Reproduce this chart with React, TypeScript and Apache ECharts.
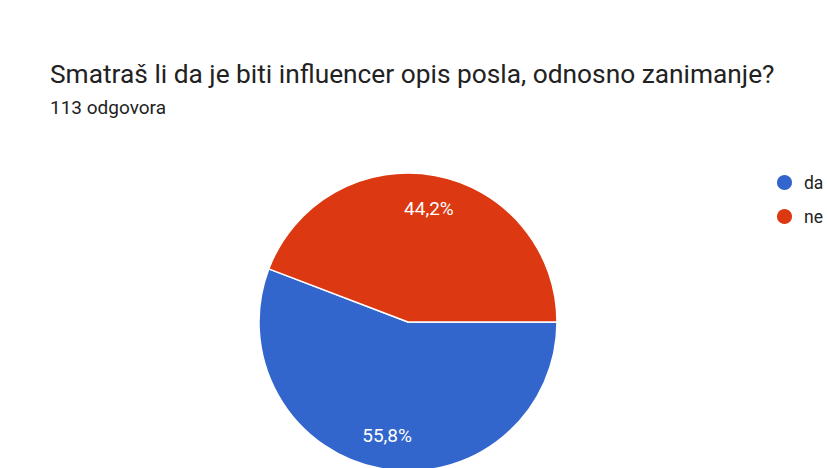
import React, { useEffect, useRef } from "react";
import * as echarts from "echarts";

const titleText = "Smatraš li da je biti influencer opis posla, odnosno zanimanje?";
const subtitleText = "113 odgovora";
const categories = ["da", "ne"];
const values = [55.8, 44.2];
const colors = ["#3366cc", "#dc3912"];

export default function App() {
  const ref = useRef<HTMLDivElement>(null);
  useEffect(() => {
    if (!ref.current) return;
    const chart = echarts.init(ref.current, null, { renderer: "svg" });
    const data = categories.map((name, i) => ({
      name,
      value: values[i],
      itemStyle: { color: colors[i] },
    }));
    const fmt = (p: any) => String(p.value.toFixed(1)).replace(".", ",") + "%";
    chart.setOption({
      animation: false,
      backgroundColor: "#ffffff",
      title: {
        text: titleText,
        subtext: subtitleText,
        left: 45,
        top: 56,
        itemGap: 11,
        textStyle: { fontFamily: "Roboto", fontSize: 26.3, fontWeight: "normal", color: "#222222" },
        subtextStyle: { fontFamily: "Roboto", fontSize: 19, color: "#222222" },
      },
      legend: {
        orient: "vertical",
        left: 770,
        top: 168,
        icon: "circle",
        itemWidth: 17,
        itemHeight: 17,
        itemGap: 15,
        data: categories,
        textStyle: { fontFamily: "Roboto", fontSize: 17.5, color: "#222222", padding: [0, 0, 0, 6] },
      },
      series: [
        {
          type: "pie",
          center: [408, 322],
          radius: [0, 149],
          startAngle: 0,
          clockwise: true,
          silent: true,
          label: { show: false },
          labelLine: { show: false },
          itemStyle: { borderColor: "#ffffff", borderWidth: 1.5 },
          data,
        },
        {
          type: "pie",
          center: [408, 322],
          radius: [76, 149],
          startAngle: 0,
          clockwise: true,
          silent: true,
          legendHoverLink: false,
          label: {
            show: true,
            position: "inside",
            formatter: fmt,
            color: "#ffffff",
            fontFamily: "Roboto",
            fontSize: 19,
          },
          labelLine: { show: false },
          itemStyle: { color: "transparent", borderWidth: 0 },
          data: data.map((d) => ({ name: d.name + " ", value: d.value, itemStyle: { color: "transparent" } })),
        },
      ],
    });
    return () => chart.dispose();
  }, []);
  return (
    <div
      ref={ref}
      style={{ position: "fixed", left: 0, top: 0, width: 827, height: 468 }}
    />
  );
}
